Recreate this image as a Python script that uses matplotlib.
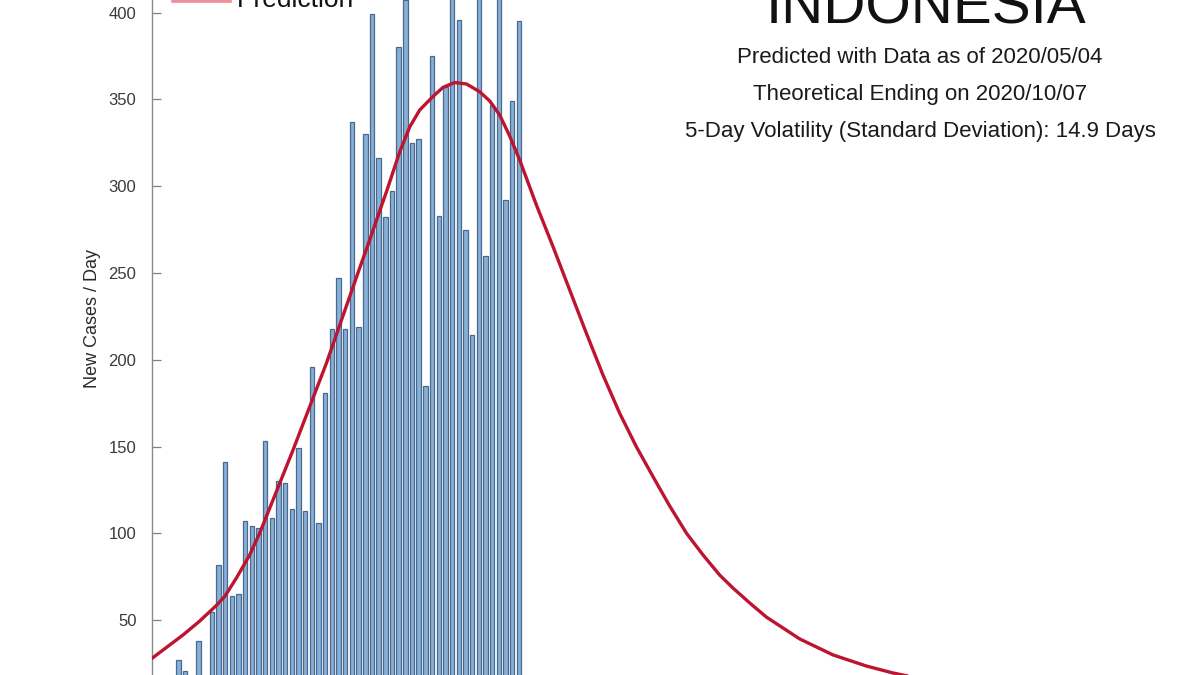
import matplotlib
matplotlib.use("Agg")
import matplotlib.pyplot as plt
from matplotlib.lines import Line2D
import pandas as pd

plt.rcParams['font.family'] = ['Liberation Sans', 'DejaVu Sans']

# ---------------- data ----------------
axis_start = "2020-03-10"
bar_start = "2020-03-14"
bar_end = "2020-05-04"
new_cases = [27, 21, 17, 38, 0, 55, 82, 141, 64, 65, 107, 104, 103, 153,
             109, 130, 129, 114, 149, 113, 196, 106, 181, 218, 247, 218,
             337, 219, 330, 399, 316, 282, 297, 380, 407, 325, 327, 185,
             375, 283, 357, 436, 396, 275, 214, 415, 260, 347, 433, 292,
             349, 395]

# prediction curve: days after axis_start, cases/day
pred_day = [0.0, 4.69, 7.19, 9.69, 10.98, 12.69, 14.68, 16.18, 17.57, 21.17,
            26.17, 31.16, 32.66, 34.05, 35.16, 37.15, 38.65, 40.15, 42.14,
            43.64, 45.39, 47.15, 49.14, 50.64, 52.13, 53.63, 55.13, 57.63,
            60.12, 62.62, 65.12, 67.61, 70.11, 72.61, 75.10, 77.60, 80.10,
            82.59, 85.09, 87.09, 89.6, 92.09, 97.08, 102.07, 107.07, 111.06,
            115.06, 125.0, 140.0, 160.0, 185.0, 211.0]
pred_val = [27.9, 41.5, 49.5, 58.5, 63.9, 74.3, 87.6, 100.2, 113.5, 148.0,
            198.0, 252.9, 269.0, 284.6, 296.7, 319.7, 334.1, 343.9, 351.7,
            356.9, 359.7, 358.9, 354.4, 349.1, 341.0, 328.9, 315.1, 289.2,
            265.2, 240.2, 215.3, 191.2, 169.2, 149.9, 132.7, 115.8, 100.2,
            87.6, 76.0, 68.5, 59.9, 51.8, 39.2, 30.0, 23.6, 19.6,
            16.4, 11.5, 7.0, 3.5, 1.2, 0.3]

yticks = [0, 50, 100, 150, 200, 250, 300, 350, 400, 450]
title = "INDONESIA"
info_lines = ["Predicted with Data as of 2020/05/04",
              "Theoretical Ending on 2020/10/07",
              "5-Day Volatility (Standard Deviation): 14.9 Days"]
ylabel = "New Cases / Day"
legend_label = "Prediction"

# ---------------- figure ----------------
W, H = 1200, 675
fig = plt.figure(figsize=(W / 100, H / 100), dpi=100)

px_per_day = 6.675
px_per_case = 1.736
x_days = 180
y_max = 450
ax_left_px = 151.7
ax_zero_px = 707.0  # pixel row (from top) of value 0

ax = fig.add_axes([ax_left_px / W,
                   (H - ax_zero_px) / H,
                   x_days * px_per_day / W,
                   y_max * px_per_case / H])

t0 = pd.Timestamp(axis_start)
dates = pd.date_range(bar_start, bar_end, freq="D")
ax.bar(dates, new_cases, width=0.66, color="#88afd6", edgecolor="#486a90",
       linewidth=0.9, zorder=2)

pred_dates = t0 + pd.to_timedelta(pred_day, unit="D")
line, = ax.plot(pred_dates, pred_val, color="#bd1430", linewidth=2.4,
                solid_capstyle="round", solid_joinstyle="round", zorder=3,
                label=legend_label)

ax.set_xlim(t0, t0 + pd.Timedelta(days=x_days))
ax.set_ylim(0, y_max)
ax.set_yticks(yticks)
ax.tick_params(axis="y", direction="in", length=6.5, width=0.9,
               color="#808080", labelcolor="#3a3a3a", labelsize=12, pad=11)
ax.tick_params(axis="x", bottom=False, labelbottom=False)
for s in ["top", "right", "bottom"]:
    ax.spines[s].set_visible(False)
ax.spines["left"].set_color("#8a8a8a")
ax.spines["left"].set_linewidth(1.0)

ax.set_ylabel(ylabel, fontsize=13, color="#2a2a2a")
ax.yaxis.set_label_coords((101 - ax_left_px) / (x_days * px_per_day),
                          ((ax_zero_px - 318) / px_per_case) / y_max)

# title block (top right)
cx = 920 / W
fig.text(cx + 6 / W, 1 - 24 / H, title, fontsize=42, ha="center",
         va="baseline", color="#111111")
for txt, base in zip(info_lines, [63, 100, 137]):
    fig.text(cx, 1 - base / H, txt, fontsize=16, ha="center", va="baseline",
             color="#1a1a1a")

# legend (partially cut at the top)
fig.add_artist(Line2D([173 / W, 230 / W], [1 - 0.5 / H, 1 - 0.5 / H],
                      color="#ef8d98", linewidth=2.6,
                      transform=fig.transFigure))
fig.text(237 / W, 1 - 7 / H, legend_label, fontsize=19, ha="left",
         va="baseline", color="#111111")

fig.savefig("out.png", dpi=100)
